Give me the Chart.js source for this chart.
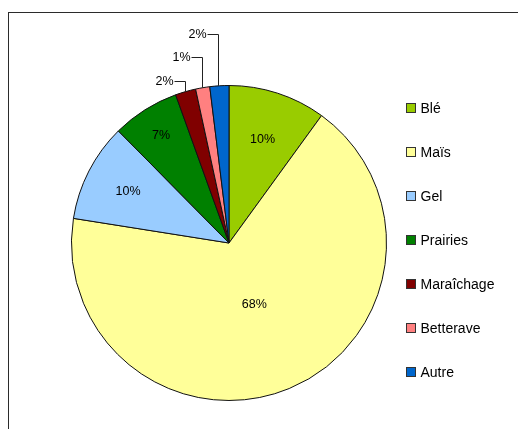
<!DOCTYPE html>
<html>
<head>
<meta charset="utf-8">
<script src="https://cdn.jsdelivr.net/npm/chart.js@4/dist/chart.umd.min.js"></script>
<style>
  body { margin: 0; background: #fff; }
  #frame { position: absolute; left: 8px; top: 12px; width: 600px; height: 500px; border: 1px solid #2b2b2b; }
  #pie { position: absolute; left: 0; top: 0; }
</style>
</head>
<body>
<div id="frame"></div>
<canvas id="pie" width="518" height="429"></canvas>
<script>
// surfaces (%)
const cultures = ['Blé', 'Maïs', 'Gel', 'Prairies', 'Maraîchage', 'Betterave', 'Autre'];
const parts = [10.0, 67.5, 10.1, 6.9, 2.1, 1.45, 1.95];
const couleurs = ['#99CC00', '#FFFF99', '#99CCFF', '#008000', '#800000', '#FF8080', '#0066CC'];

const FONT = '"Liberation Sans", Arial, sans-serif';

// labels inside the slices: distance from centre (fraction of radius)
const insideRatio = {0: 0.69, 1: 0.42, 2: 0.72, 3: 0.81};
// small slices: label above with a leader line of this height
const leaderHeight = {4: 11, 5: 31, 6: 52};

const labelsPlugin = {
    id: 'excelLabels',
    afterDatasetsDraw(chart) {
        const ctx = chart.ctx;
        const meta = chart.getDatasetMeta(0);
        const total = parts.reduce((a, b) => a + b, 0);
        ctx.save();
        ctx.font = '12.5px ' + FONT;
        ctx.fillStyle = '#000';
        ctx.strokeStyle = '#222';
        ctx.lineWidth = 1;
        meta.data.forEach((arc, i) => {
            const p = arc.getProps(['x', 'y', 'startAngle', 'endAngle', 'outerRadius']);
            const mid = (p.startAngle + p.endAngle) / 2;
            const txt = Math.round(parts[i] / total * 100) + '%';
            if (insideRatio[i] !== undefined) {
                const r = p.outerRadius * insideRatio[i];
                ctx.textAlign = 'center';
                ctx.textBaseline = 'middle';
                ctx.fillText(txt, p.x + Math.cos(mid) * r, p.y + Math.sin(mid) * r);
            } else {
                const ax = Math.round(p.x + Math.cos(mid) * p.outerRadius) - 0.5;
                const ay = p.y + Math.sin(mid) * p.outerRadius;
                const top = Math.round(ay - leaderHeight[i]) + 0.5;
                ctx.beginPath();
                ctx.moveTo(ax, ay);
                ctx.lineTo(ax, top);
                ctx.lineTo(ax - 11, top);
                ctx.stroke();
                ctx.textAlign = 'right';
                ctx.textBaseline = 'middle';
                ctx.fillText(txt, ax - 12, top);
            }
        });
        ctx.restore();
    },
    afterDraw(chart) {
        // legend on the right, as in the Excel chart
        const ctx = chart.ctx;
        ctx.save();
        ctx.font = '14px ' + FONT;
        ctx.textAlign = 'left';
        ctx.textBaseline = 'middle';
        cultures.forEach((c, i) => {
            const y = 108 + i * 44;
            ctx.fillStyle = couleurs[i];
            ctx.fillRect(406.5, y - 4.5, 9, 9);
            ctx.strokeStyle = '#333';
            ctx.strokeRect(406.5, y - 4.5, 9, 9);
            ctx.fillStyle = '#000';
            ctx.fillText(c, 420.5, y + 1);
        });
        ctx.restore();
    }
};

new Chart(document.getElementById('pie'), {
    type: 'pie',
    data: {
        labels: cultures,
        datasets: [{
            data: parts,
            backgroundColor: couleurs,
            borderColor: '#111',
            borderWidth: 1,
            hoverOffset: 0
        }]
    },
    options: {
        responsive: false,
        animation: false,
        layout: { padding: { left: 71, top: 85, right: 131, bottom: 28 } },
        plugins: {
            legend: { display: false },
            tooltip: { enabled: false }
        }
    },
    plugins: [labelsPlugin]
});
</script>
</body>
</html>
